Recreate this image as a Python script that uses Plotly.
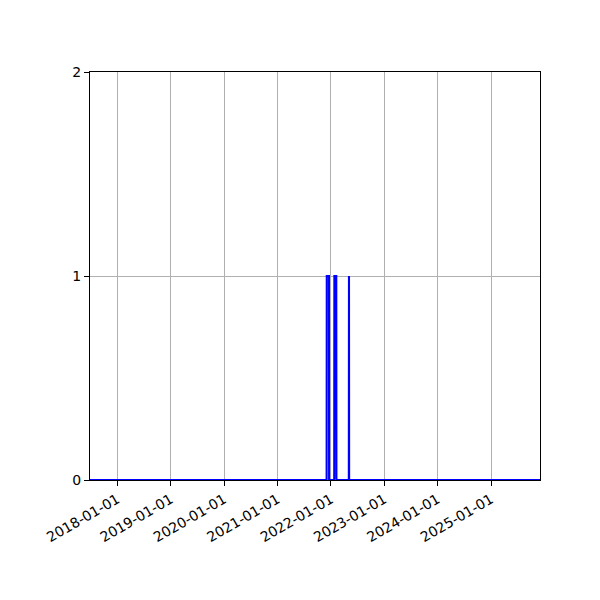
import plotly.graph_objects as go

# Daily series sampled at its change points (value 0 or 1)
dates = ["2017-06-28", "2021-12-03", "2021-12-04", "2021-12-19", "2021-12-20",
         "2022-01-24", "2022-01-25", "2022-02-07", "2022-02-08",
         "2022-05-04", "2022-05-05", "2022-05-06", "2025-12-02"]
values = [0, 0, 1, 1, 0, 0, 1, 1, 0, 0, 1, 0, 0]

x_ticks = ["2018-01-01", "2019-01-01", "2020-01-01", "2021-01-01",
           "2022-01-01", "2023-01-01", "2024-01-01", "2025-01-01"]
y_ticks = [0, 1, 2]
x_range = ["2017-06-28", "2025-12-02"]

fig = go.Figure()
fig.add_trace(go.Scatter(x=dates, y=values, mode="lines",
                         line=dict(color="#0000ff", width=2.1), showlegend=False))

axis_common = dict(showline=True, linecolor="black", linewidth=1, mirror=True,
                   ticks="outside", ticklen=5, tickwidth=1, tickcolor="black",
                   showgrid=True, gridcolor="#b0b0b0", gridwidth=1, zeroline=False,
                   tickfont=dict(family="DejaVu Sans", size=14, color="black"))

fig.update_layout(
    width=600, height=600,
    margin=dict(l=82, r=68, t=64, b=128),
    paper_bgcolor="white", plot_bgcolor="white",
    xaxis=dict(type="date", range=x_range, tickvals=x_ticks, ticktext=x_ticks,
               tickangle=-30, **axis_common),
    yaxis=dict(range=[0, 2], tickvals=y_ticks, **axis_common),
)

fig.write_html("out.html")
